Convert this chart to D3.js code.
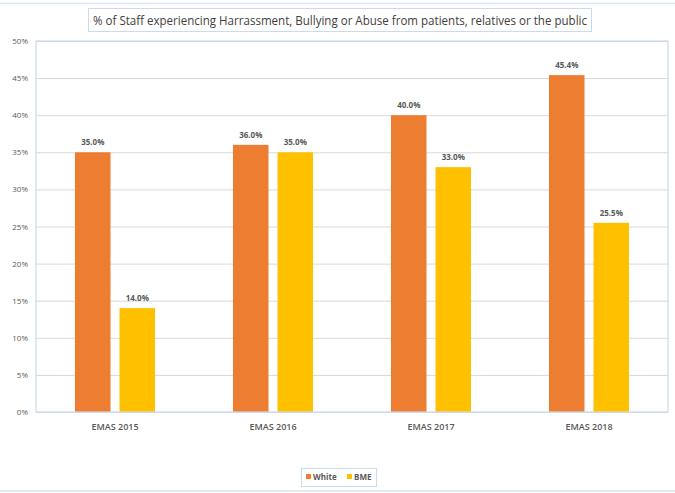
<!DOCTYPE html>
<html><head><meta charset="utf-8">
<script src="https://cdn.jsdelivr.net/npm/d3@7"></script>
<style>body{margin:0;background:#fff}svg{display:block}</style>
</head><body><svg id="c" width="675" height="493"></svg>
<script>
const categories = ["EMAS 2015","EMAS 2016","EMAS 2017","EMAS 2018"];
const seriesNames = ["White","BME"];
const white = [35.0, 36.0, 40.0, 45.4];
const bme = [14.0, 35.0, 33.0, 25.5];
const yTicks = [0,5,10,15,20,25,30,35,40,45,50];
const title = "% of Staff experiencing Harrassment, Bullying or Abuse from patients, relatives or the public";
const colors = ["#ED7D31","#FFC000"];

const svg = d3.select("#c");
const font = "'Open Sans', Calibri, sans-serif";
const m = {l:36, r:668, t:41, b:412};

// outer chart border lines
svg.append("line").attr("x1",0).attr("x2",675).attr("y1",3.5).attr("y2",3.5).attr("stroke","#D6E4F2").attr("stroke-width",1.5);
svg.append("line").attr("x1",0).attr("x2",675).attr("y1",491).attr("y2",491).attr("stroke","#D6E4F2").attr("stroke-width",1.5);

const x = d3.scaleBand().domain(categories).range([m.l,m.r]);
const y = d3.scaleLinear().domain([0,50]).range([m.b,m.t]);
const x1 = d3.scaleBand().domain(seriesNames).range([0,x.bandwidth()]).paddingInner(0.202).paddingOuter(0.876);

// gridlines
svg.append("g").selectAll("line").data(yTicks).join("line")
  .attr("x1",m.l).attr("x2",m.r).attr("y1",d=>y(d)+0.5).attr("y2",d=>y(d)+0.5)
  .attr("stroke","#D9D9D9").attr("stroke-width",1);

// y axis labels
const ya = d3.axisLeft(y).tickValues(yTicks).tickFormat(d=>d+"%").tickSize(0).tickPadding(8);
const yg = svg.append("g").attr("transform",`translate(${m.l},0)`).call(ya);
yg.select(".domain").remove();
yg.selectAll("text").attr("font-family",font).attr("font-size",8).attr("fill","#595959");

// bars
const data = categories.map((c,i)=>({c, vals:[white[i],bme[i]]}));
const g = svg.append("g").selectAll("g").data(data).join("g").attr("transform",d=>`translate(${x(d.c)},0)`);
g.selectAll("rect").data(d=>d.vals.map((v,j)=>({v,s:seriesNames[j],j}))).join("rect")
  .attr("x",d=>x1(d.s)).attr("width",x1.bandwidth())
  .attr("y",d=>y(d.v)).attr("height",d=>y(0)-y(d.v)).attr("fill",d=>colors[d.j]);
g.selectAll("text").data(d=>d.vals.map((v,j)=>({v,s:seriesNames[j],j}))).join("text")
  .attr("x",d=>x1(d.s)+x1.bandwidth()/2).attr("y",d=>y(d.v)-7)
  .attr("text-anchor","middle").attr("font-family",font).attr("font-size",8).attr("font-weight",700)
  .attr("fill","#595959").text(d=>d.v.toFixed(1)+"%");

// plot area border
svg.append("rect").attr("x",m.l).attr("y",m.t).attr("width",m.r-m.l).attr("height",m.b-m.t)
  .attr("fill","none").attr("stroke","#C9DBEE").attr("stroke-width",1.2);

// x axis labels
const xa = d3.axisBottom(x).tickSize(0).tickPadding(12);
const xg = svg.append("g").attr("transform",`translate(0,${m.b})`).call(xa);
xg.select(".domain").remove();
xg.selectAll("text").attr("font-family",font).attr("font-size",9).attr("font-weight",600).attr("fill","#595959");

// title
svg.append("rect").attr("x",88.5).attr("y",8.5).attr("width",503).attr("height",23).attr("fill","#fff").attr("stroke","#C9DBEE");
svg.append("text").attr("x",340).attr("y",25).attr("text-anchor","middle").attr("font-family",font)
  .attr("font-size",12).attr("fill","#404040").attr("textLength",494).attr("lengthAdjust","spacingAndGlyphs").text(title);

// legend
const lg = svg.append("g");
lg.append("rect").attr("x",301.5).attr("y",468.5).attr("width",75).attr("height",18).attr("fill","#fff").attr("stroke","#C9DBEE");
const items = [{n:"White",x:306},{n:"BME",x:347}];
items.forEach((it,i)=>{
  lg.append("rect").attr("x",it.x).attr("y",474).attr("width",5).attr("height",5).attr("fill",colors[i]);
  lg.append("text").attr("x",it.x+7).attr("y",480).attr("font-family",font).attr("font-size",8).attr("font-weight",700).attr("fill","#595959").text(it.n);
});
</script></body></html>
